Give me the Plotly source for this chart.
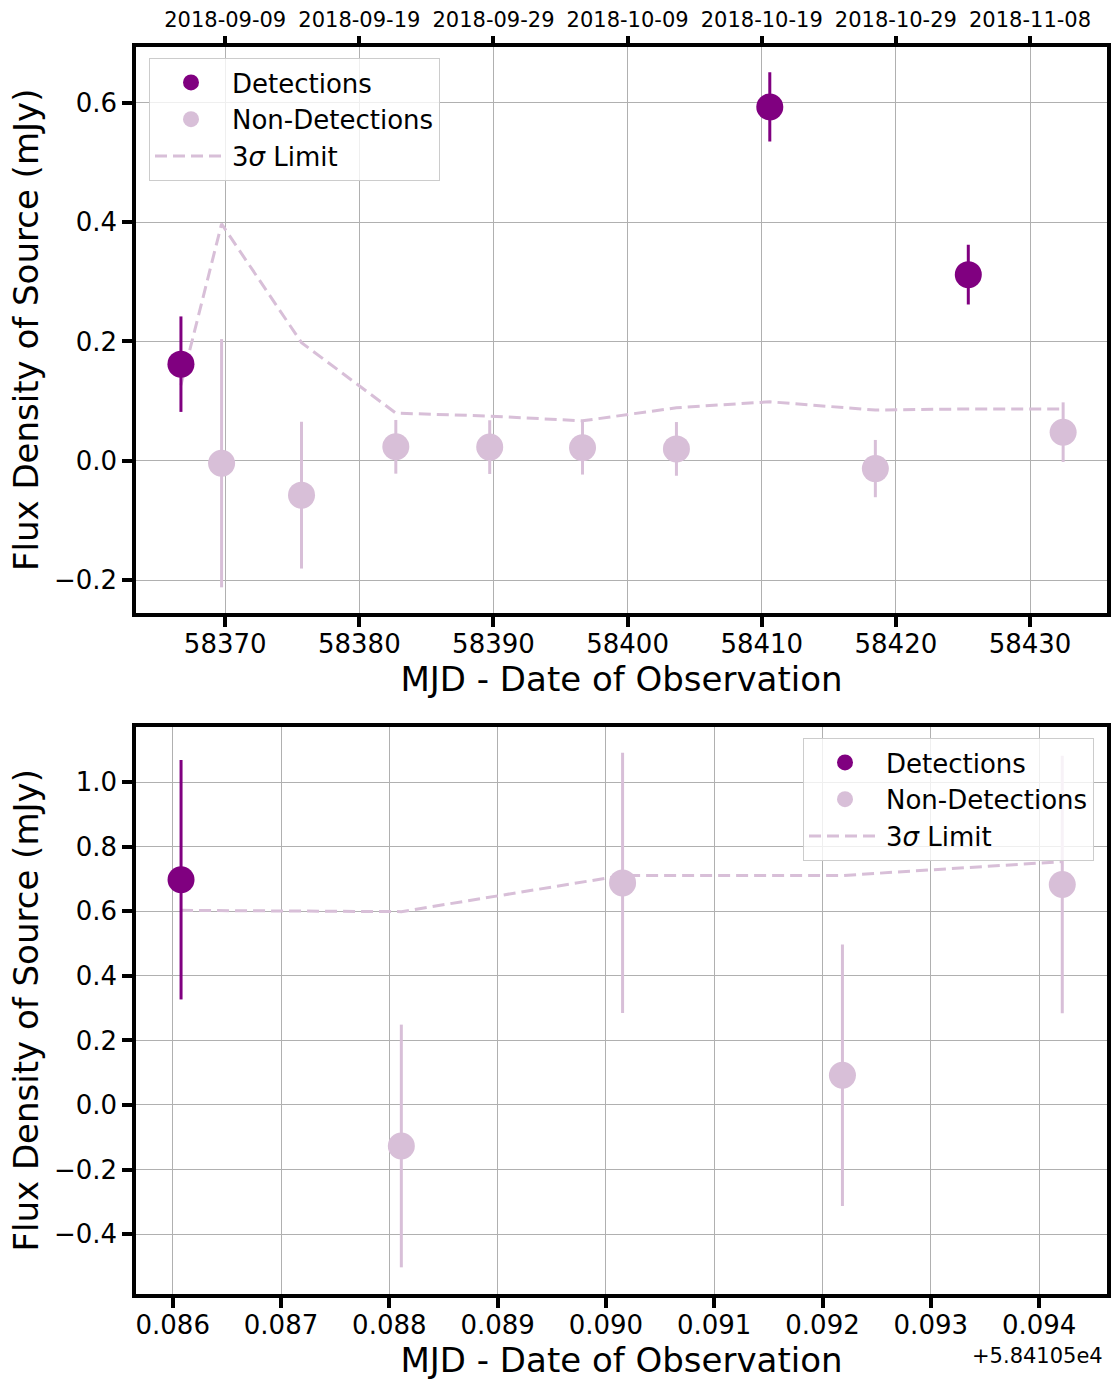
import plotly.graph_objects as go
from datetime import datetime, timedelta

# ---------------- data: top panel (long-term light curve) ----------------
det1_mjd = [58366.70, 58410.60, 58425.40]
det1_flux = [0.162, 0.593, 0.312]
det1_err = [0.080, 0.058, 0.050]

nondet1_mjd = [58369.73, 58375.69, 58382.72, 58389.72, 58396.64, 58403.64, 58418.47, 58432.47]
nondet1_flux = [-0.004, -0.0575, 0.0235, 0.023, 0.022, 0.020, -0.013, 0.048]
nondet1_err = [0.208, 0.123, 0.045, 0.045, 0.045, 0.045, 0.048, 0.050]

lim1_mjd = [58366.70, 58369.73, 58375.69, 58382.72, 58389.72, 58396.64,
            58403.64, 58410.60, 58418.47, 58425.40, 58432.47]
lim1_flux = [0.127, 0.397, 0.198, 0.080, 0.075, 0.067, 0.089, 0.099, 0.085, 0.087, 0.087]

top_x_ticks = [58370, 58380, 58390, 58400, 58410, 58420, 58430]
top_y_ticks = [-0.2, 0.0, 0.2, 0.4, 0.6]
date_ticks = ["2018-09-09", "2018-09-19", "2018-09-29", "2018-10-09",
              "2018-10-19", "2018-10-29", "2018-11-08"]

# ---------------- data: bottom panel (single-night light curve) ----------------
mjd_offset = 58410.5
det2_mjd = [58410.586077]
det2_flux = [0.698]
det2_err = [0.371]

nondet2_mjd = [58410.588111, 58410.590154, 58410.592184, 58410.594214]
nondet2_flux = [-0.127, 0.688, 0.092, 0.683]
nondet2_err = [0.376, 0.403, 0.405, 0.399]

lim2_mjd = [58410.586077, 58410.588111, 58410.590154, 58410.592184, 58410.594214]
lim2_flux = [0.603, 0.599, 0.711, 0.711, 0.754]

bot_x_ticks = [0.086, 0.087, 0.088, 0.089, 0.090, 0.091, 0.092, 0.093, 0.094]
bot_y_ticks = [-0.4, -0.2, 0.0, 0.2, 0.4, 0.6, 0.8, 1.0]

# ---------------- styling ----------------
DET = "#800080"
NON = "#D8BFD8"
FONT = "DejaVu Sans"
W, H = 1111, 1380
MS = 27


def mjd_to_date(m):
    return datetime(2018, 9, 9) + timedelta(days=m - 58370)


fig = go.Figure()

# top panel
fig.add_trace(go.Scatter(x=lim1_mjd, y=lim1_flux, mode="lines", name="3<i>σ</i> Limit",
                         line=dict(color=NON, width=3, dash="12px,6px"),
                         xaxis="x", yaxis="y", legend="legend", legendrank=3))
fig.add_trace(go.Scatter(x=det1_mjd, y=det1_flux, mode="markers", name="Detections",
                         marker=dict(color=DET, size=MS),
                         error_y=dict(type="data", array=det1_err, color=DET, thickness=3, width=0),
                         xaxis="x", yaxis="y", legend="legend", legendrank=1))
fig.add_trace(go.Scatter(x=nondet1_mjd, y=nondet1_flux, mode="markers", name="Non-Detections",
                         marker=dict(color=NON, size=MS),
                         error_y=dict(type="data", array=nondet1_err, color=NON, thickness=3, width=0),
                         xaxis="x", yaxis="y", legend="legend", legendrank=2))
# invisible trace to carry the date axis
fig.add_trace(go.Scatter(x=[mjd_to_date(m) for m in lim1_mjd], y=[None] * len(lim1_mjd),
                         mode="markers", showlegend=False, hoverinfo="skip",
                         xaxis="x3", yaxis="y"))

# bottom panel
fig.add_trace(go.Scatter(x=[m - mjd_offset for m in lim2_mjd], y=lim2_flux, mode="lines",
                         name="3<i>σ</i> Limit",
                         line=dict(color=NON, width=3, dash="12px,6px"),
                         xaxis="x2", yaxis="y2", legend="legend2", legendrank=3))
fig.add_trace(go.Scatter(x=[m - mjd_offset for m in det2_mjd], y=det2_flux, mode="markers",
                         name="Detections", marker=dict(color=DET, size=MS),
                         error_y=dict(type="data", array=det2_err, color=DET, thickness=3, width=0),
                         xaxis="x2", yaxis="y2", legend="legend2", legendrank=1))
fig.add_trace(go.Scatter(x=[m - mjd_offset for m in nondet2_mjd], y=nondet2_flux, mode="markers",
                         name="Non-Detections", marker=dict(color=NON, size=MS),
                         error_y=dict(type="data", array=nondet2_err, color=NON, thickness=3, width=0),
                         xaxis="x2", yaxis="y2", legend="legend2", legendrank=2))

x0, x1 = 136 / W, 1107 / W
top_dom = [1 - 613 / H, 1 - 46.7 / H]
bot_dom = [1 - 1294 / H, 1 - 726.7 / H]

common_axis = dict(showline=True, linecolor="black", linewidth=3.5, mirror=True,
                   ticks="outside", ticklen=10, tickwidth=3.5, tickcolor="black",
                   showgrid=True, gridcolor="#b0b0b0", gridwidth=1, zeroline=False,
                   tickfont=dict(family=FONT, size=26, color="black"), automargin=False)
title_font = dict(family=FONT, size=34, color="black")

top_range = [58363.35, 58435.74]
fig.update_layout(
    width=W, height=H, margin=dict(l=0, r=0, t=0, b=0),
    paper_bgcolor="white", plot_bgcolor="white",
    font=dict(family=FONT, color="black"),
    xaxis=dict(domain=[x0, x1], anchor="y", range=top_range,
               tickvals=top_x_ticks, tickformat="d", ticklabelstandoff=-5,
               title=dict(text="MJD - Date of Observation", font=title_font, standoff=4),
               **common_axis),
    yaxis=dict(domain=top_dom, anchor="x", range=[-0.255, 0.694],
               tickvals=top_y_ticks, tickformat=".1f",
               title=dict(text="Flux Density of Source (mJy)", font=title_font, standoff=6),
               **common_axis),
    xaxis3=dict(overlaying="x", anchor="y", side="top", type="date",
                range=[mjd_to_date(top_range[0]), mjd_to_date(top_range[1])],
                tickvals=date_ticks, tickformat="%Y-%m-%d",
                ticks="outside", ticklen=10, tickwidth=3.5, tickcolor="black",
                showgrid=False, showline=False, zeroline=False, automargin=False,
                tickfont=dict(family=FONT, size=21, color="black")),
    xaxis2=dict(domain=[x0, x1], anchor="y2", range=[0.085661, 0.094627],
                tickvals=bot_x_ticks, tickformat=".3f", ticklabelstandoff=-5,
                title=dict(text="MJD - Date of Observation", font=title_font, standoff=4),
                **common_axis),
    yaxis2=dict(domain=bot_dom, anchor="x2", range=[-0.5856, 1.172],
                tickvals=bot_y_ticks, tickformat=".1f",
                title=dict(text="Flux Density of Source (mJy)", font=title_font, standoff=6),
                **common_axis),
    legend=dict(x=149 / W, y=1 - 58 / H, xanchor="left", yanchor="top",
                bgcolor="rgba(255,255,255,0.8)", bordercolor="#cccccc", borderwidth=1,
                font=dict(family=FONT, size=26, color="black"), itemwidth=72,
                traceorder="normal"),
    legend2=dict(x=1094 / W, y=1 - 738 / H, xanchor="right", yanchor="top",
                 bgcolor="rgba(255,255,255,0.8)", bordercolor="#cccccc", borderwidth=1,
                 font=dict(family=FONT, size=26, color="black"), itemwidth=72,
                 traceorder="normal"),
    annotations=[dict(text="+5.84105e4", x=1105 / W, y=1 - 1356 / H, xref="paper", yref="paper",
                      xanchor="right", yanchor="middle", showarrow=False,
                      font=dict(family=FONT, size=21, color="black"))],
)

fig.write_html("out.html")
